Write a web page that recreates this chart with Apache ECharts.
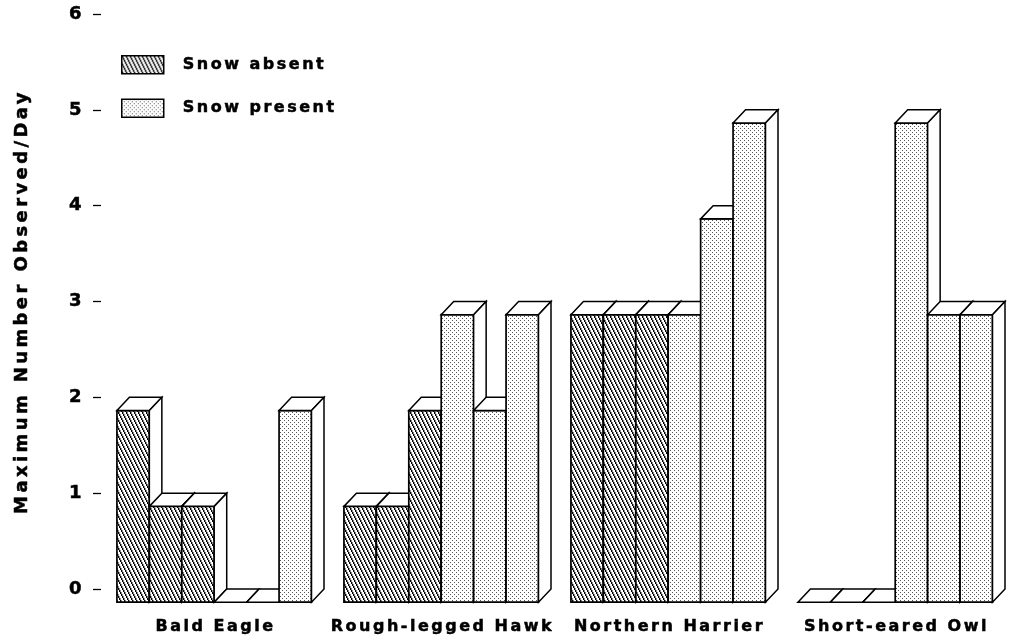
<!DOCTYPE html>
<html><head><meta charset="utf-8">
<script src="https://cdn.jsdelivr.net/npm/echarts@6/dist/echarts.min.js"></script>
<style>html,body{margin:0;padding:0;background:#fff}#c{width:1011px;height:641px}</style>
</head><body><div id="c"></div>
<script>
// ---- data ----
const categories = ['Bald Eagle', 'Rough-legged Hawk', 'Northern Harrier', 'Short-eared Owl'];
const seriesNames = ['Snow absent', 'Snow present'];
const snowAbsent = [[2, 1, 1], [1, 1, 2], [3, 3, 3], [0, 0, 0]];
const snowPresent = [[0, 0, 2], [3, 2, 3], [3, 4, 5], [5, 3, 3]];
const yTicks = [0, 1, 2, 3, 4, 5, 6];
const yTitle = 'Maximum Number Observed/Day';

// ---- letter-spaced text (the original uses widely tracked lettering) ----
function withSpacing(orig) {
  return function (t, x, y, mw) {
    const m = /(\d+(?:\.\d+)?)px/.exec(this.font);
    const size = m ? parseFloat(m[1]) : 12;
    const has = 'letterSpacing' in this;
    const prev = has ? this.letterSpacing : null;
    if (has) this.letterSpacing = (size >= 17.5 ? 3.4 : 2.5) + 'px';
    const r = mw === undefined ? orig.call(this, t, x, y) : orig.call(this, t, x, y, mw);
    if (has) this.letterSpacing = prev;
    return r;
  };
}
CanvasRenderingContext2D.prototype.fillText = withSpacing(CanvasRenderingContext2D.prototype.fillText);
CanvasRenderingContext2D.prototype.strokeText = withSpacing(CanvasRenderingContext2D.prototype.strokeText);

// ---- fill patterns ----
function hatchTile() {
  const c = document.createElement('canvas'); c.width = 4; c.height = 8;
  const g = c.getContext('2d');
  g.fillStyle = '#fff'; g.fillRect(0, 0, 4, 8);
  for (let y = 0; y < 8; y++) {
    const x = Math.floor(y / 2);
    g.fillStyle = '#000'; g.fillRect(x, y, 1, 1);
    g.fillStyle = '#888'; g.fillRect((x + 1) % 4, y, 1, 1);
  }
  return c;
}
function dotTile() {
  const c = document.createElement('canvas'); c.width = 4; c.height = 4;
  const g = c.getContext('2d');
  g.fillStyle = '#fff'; g.fillRect(0, 0, 4, 4);
  g.fillStyle = '#555'; g.fillRect(0, 0, 1, 1); g.fillRect(2, 2, 1, 1);
  return c;
}
const patterns = [
  { image: hatchTile(), repeat: 'repeat' },
  { image: dotTile(), repeat: 'repeat' }
];

// slot layout: each group = 6 bar slots + 1 gap slot
const GROUP = 7;
const absentData = [], presentData = [];
categories.forEach((c, g) => {
  snowAbsent[g].forEach((v, i) => absentData.push([g * GROUP + i, v]));
  snowPresent[g].forEach((v, i) => presentData.push([g * GROUP + 3 + i, v]));
});

const DX = 12.5, DY = 13.2; // 3-D depth offset (px)
function makeRender(si) {
  return function (params, api) {
    const x = api.value(0), v = api.value(1);
    const p0 = api.coord([x, 0]);
    const p1 = api.coord([x + 1, v]);
    const L = p0[0], R = p1[0], B = p0[1], T = p1[1];
    const stroke = '#000';
    return {
      type: 'group',
      children: [
        { type: 'rect', shape: { x: L - DX, y: T + DY, width: R - L, height: B - T },
          style: { fill: patterns[si], stroke: stroke, lineWidth: 1.7 } },
        { type: 'polygon', shape: { points: [[L - DX, T + DY], [R - DX, T + DY], [R, T], [L, T]] },
          style: { fill: '#fff', stroke: stroke, lineWidth: 1.5, lineJoin: 'miter' } },
        { type: 'polygon', shape: { points: [[R - DX, T + DY], [R, T], [R, B], [R - DX, B + DY]] },
          style: { fill: '#fff', stroke: stroke, lineWidth: 1.5, lineJoin: 'miter' } }
      ]
    };
  };
}

const FONT = '"DejaVu Sans", "Liberation Sans", Arial, sans-serif';
const heavy = { textBorderColor: '#000', textBorderWidth: 0.5 };
const chart = echarts.init(document.getElementById('c'), null, { renderer: 'canvas' });
chart.setOption({
  animation: false,
  backgroundColor: '#fff',
  grid: { left: 97, right: 6, top: 14, bottom: 52, containLabel: false },
  legend: {
    data: seriesNames,
    orient: 'vertical',
    left: 121, top: 55, padding: 0,
    itemWidth: 42, itemHeight: 18, itemGap: 24,
    icon: 'rect',
    itemStyle: { borderColor: '#000', borderWidth: 1.5 },
    textStyle: Object.assign({ fontFamily: FONT, fontWeight: 'bold', fontSize: 16, color: '#000', padding: [0, 0, 0, 14] }, heavy),
    selectedMode: false
  },
  xAxis: [
    { type: 'value', min: -1, max: GROUP * categories.length - 1, show: false },
    { type: 'category', data: categories, position: 'bottom', boundaryGap: true,
      axisLine: { show: false }, axisTick: { show: false }, splitLine: { show: false },
      axisLabel: Object.assign({ fontFamily: FONT, fontWeight: 'bold', fontSize: 16, color: '#000', margin: 30,
        padding: [0, 0, 0, 10], interval: 0 }, heavy) }
  ],
  yAxis: {
    type: 'value', min: yTicks[0], max: yTicks[yTicks.length - 1], interval: 1,
    offset: -4,
    splitLine: { show: false },
    axisLine: { show: false, onZero: false },
    axisTick: { show: true, length: 8, lineStyle: { color: '#000', width: 1.3 } },
    axisLabel: Object.assign({ fontFamily: FONT, fontWeight: 'bold', fontSize: 18, color: '#000', margin: 16 }, heavy),
    name: yTitle, nameLocation: 'middle', nameGap: 70,
    nameTextStyle: Object.assign({ fontFamily: FONT, fontWeight: 'bold', fontSize: 18, color: '#000' }, heavy)
  },
  series: [
    { type: 'custom', name: seriesNames[0], xAxisIndex: 0, yAxisIndex: 0,
      itemStyle: { color: patterns[0], borderColor: '#000' },
      renderItem: makeRender(0), data: absentData, clip: false },
    { type: 'custom', name: seriesNames[1], xAxisIndex: 0, yAxisIndex: 0,
      itemStyle: { color: patterns[1], borderColor: '#000' },
      renderItem: makeRender(1), data: presentData, clip: false }
  ]
});
</script></body></html>
